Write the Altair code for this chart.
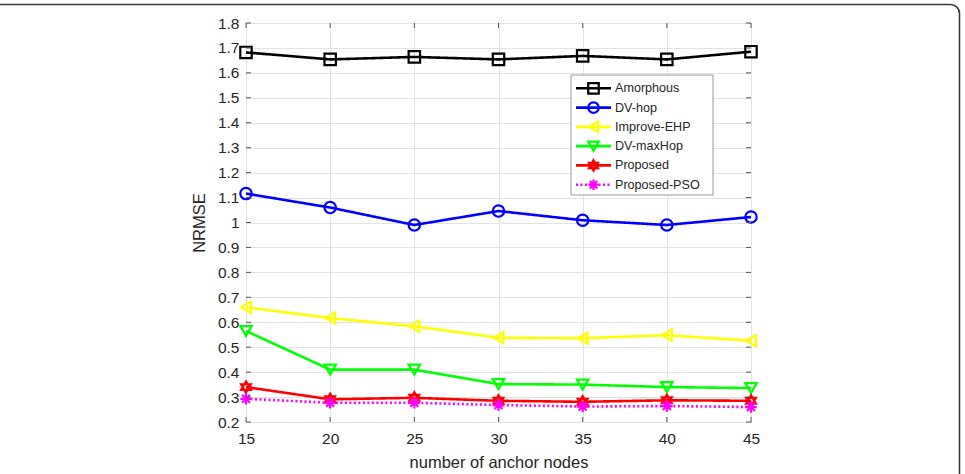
import altair as alt
import pandas as pd

# Number of anchor nodes on the x axis
anchors = [15, 20, 25, 30, 35, 40, 45]

# NRMSE of each localisation method
series_names = ["Amorphous", "DV-hop", "Improve-EHP", "DV-maxHop", "Proposed", "Proposed-PSO"]
amorphous = [1.682, 1.654, 1.664, 1.654, 1.668, 1.654, 1.685]
dv_hop = [1.116, 1.060, 0.990, 1.046, 1.009, 0.990, 1.022]
improve_ehp = [0.660, 0.617, 0.584, 0.538, 0.536, 0.548, 0.526]
dv_maxhop = [0.565, 0.410, 0.410, 0.352, 0.350, 0.340, 0.336]
proposed = [0.340, 0.291, 0.297, 0.285, 0.281, 0.287, 0.285]
proposed_pso = [0.293, 0.277, 0.277, 0.268, 0.262, 0.264, 0.260]

# Axis tick values
x_ticks = [15, 20, 25, 30, 35, 40, 45]
y_ticks = [0.2, 0.3, 0.4, 0.5, 0.6, 0.7, 0.8, 0.9, 1.0, 1.1, 1.2, 1.3, 1.4, 1.5, 1.6, 1.7, 1.8]

colors = ["#000000", "#0000ff", "#ffff00", "#00ff00", "#ff0000", "#ff00ff"]
hexagram = "M0,-1L0.866,0.5L-0.866,0.5Z M0,1L0.866,-0.5L-0.866,-0.5Z"
asterisk = "M-1,0H1 M0,-1V1 M-0.7,-0.7L0.7,0.7 M-0.7,0.7L0.7,-0.7"
shapes = ["square", "circle", "triangle-left", "triangle-down", hexagram, asterisk]
dashes = [[1, 0], [1, 0], [1, 0], [1, 0], [1, 0], [2, 2.5]]

W, H = 505, 399
FONT = "Liberation Sans"

all_values = [amorphous, dv_hop, improve_ehp, dv_maxhop, proposed, proposed_pso]
rows = []
for name, vals in zip(series_names, all_values):
    for a, v in zip(anchors, vals):
        rows.append({"series": name, "anchors": a, "nrmse": v})
df = pd.DataFrame(rows)

legend_df = pd.DataFrame({"series": series_names, "row": list(range(len(series_names)))})
xt_df = pd.DataFrame({"xt": x_ticks})
yt_df = pd.DataFrame({"yt": y_ticks})

color_scale = alt.Scale(domain=series_names, range=colors)
shape_scale = alt.Scale(domain=series_names, range=shapes)
dash_scale = alt.Scale(domain=series_names, range=dashes)

x_scale = alt.Scale(domain=[15, 45], nice=False, zero=False)
y_scale = alt.Scale(domain=[0.2, 1.8], nice=False, zero=False)
x_axis = alt.Axis(values=x_ticks, title="number of anchor nodes", format="d")
y_axis = alt.Axis(values=y_ticks, title="NRMSE", format=".1~f")


def xq(field):
    return alt.X(field, type="quantitative", scale=x_scale, axis=x_axis)


def yq(field):
    return alt.Y(field, type="quantitative", scale=y_scale, axis=y_axis)


lines = alt.Chart(df).mark_line(strokeWidth=2.6).encode(
    x=xq("anchors"),
    y=yq("nrmse"),
    color=alt.Color("series:N", scale=color_scale, legend=None),
    strokeDash=alt.StrokeDash("series:N", scale=dash_scale, legend=None),
    detail="series:N",
)

points = alt.Chart(df).mark_point(filled=False, strokeWidth=2.2, opacity=1).encode(
    x=xq("anchors"),
    y=yq("nrmse"),
    color=alt.Color("series:N", scale=color_scale, legend=None),
    shape=alt.Shape("series:N", scale=shape_scale, legend=None),
    size=alt.value(130),
)

# Inward tick marks on all four sides of the box
tick_col = "#555555"
yt_left = alt.Chart(yt_df).mark_rule(color=tick_col, strokeWidth=1).encode(
    y=yq("yt"), x=alt.value(0), x2=alt.value(5))
yt_right = alt.Chart(yt_df).mark_rule(color=tick_col, strokeWidth=1).encode(
    y=yq("yt"), x=alt.value(W), x2=alt.value(W - 5))
xt_bottom = alt.Chart(xt_df).mark_rule(color=tick_col, strokeWidth=1).encode(
    x=xq("xt"), y=alt.value(H), y2=alt.value(H - 5))
xt_top = alt.Chart(xt_df).mark_rule(color=tick_col, strokeWidth=1).encode(
    x=xq("xt"), y=alt.value(0), y2=alt.value(5))

main = alt.layer(lines, points, yt_left, yt_right, xt_bottom, xt_top)

# Legend box drawn inside the plot area
row_y = alt.Y("row:Q", scale=alt.Scale(domain=[0, 5], range=[65.3, 161.7]), axis=None)

leg_box = alt.Chart(alt.Data(values=[{}])).mark_rect(
    fill="white", stroke="#9a9a9a", strokeWidth=1
).encode(x=alt.value(325), x2=alt.value(467), y=alt.value(52), y2=alt.value(172))

leg_lines = alt.Chart(legend_df).mark_rule(strokeWidth=2.6).encode(
    y=row_y,
    x=alt.value(330),
    x2=alt.value(365),
    color=alt.Color("series:N", scale=color_scale, legend=None),
    strokeDash=alt.StrokeDash("series:N", scale=dash_scale, legend=None),
)
leg_points = alt.Chart(legend_df).mark_point(filled=False, strokeWidth=2.2, opacity=1).encode(
    y=row_y,
    x=alt.value(347.5),
    color=alt.Color("series:N", scale=color_scale, legend=None),
    shape=alt.Shape("series:N", scale=shape_scale, legend=None),
    size=alt.value(110),
)
leg_text = alt.Chart(legend_df).mark_text(
    align="left", baseline="middle", font=FONT, fontSize=12.6, color="#262626"
).encode(y=row_y, x=alt.value(369), text="series:N")

legend_layer = alt.layer(leg_lines, leg_points, leg_text)

# Rounded page frame
frame = alt.Chart(alt.Data(values=[{}])).mark_rect(
    fillOpacity=0, stroke="#3a3a3a", strokeWidth=1.6, cornerRadius=9
).encode(x=alt.value(-300), x2=alt.value(713.5), y=alt.value(-18.5), y2=alt.value(520))

chart = (
    alt.layer(main, leg_box, legend_layer, frame)
    .resolve_scale(y="independent")
    .properties(
        width=W,
        height=H,
        autosize=alt.AutoSizeParams(type="none"),
        padding={"left": 246, "top": 23, "right": 214, "bottom": 52},
        background="white",
    )
    .configure_view(stroke="#555555", strokeWidth=1)
    .configure_axis(
        grid=True,
        gridColor="#e3e3e3",
        gridWidth=1,
        domain=False,
        ticks=False,
        labelOverlap=False,
        labelFlush=False,
        labelBound=False,
        labelFont=FONT,
        labelFontSize=15.5,
        labelColor="#262626",
        titleFont=FONT,
        titleFontSize=16.5,
        titleFontWeight="normal",
        titleColor="#262626",
    )
    .configure_axisY(labelPadding=7, titlePadding=10)
    .configure_axisX(labelPadding=9, titlePadding=8)
)

chart.save("out.html", embed_options={"renderer": "svg", "actions": False})
